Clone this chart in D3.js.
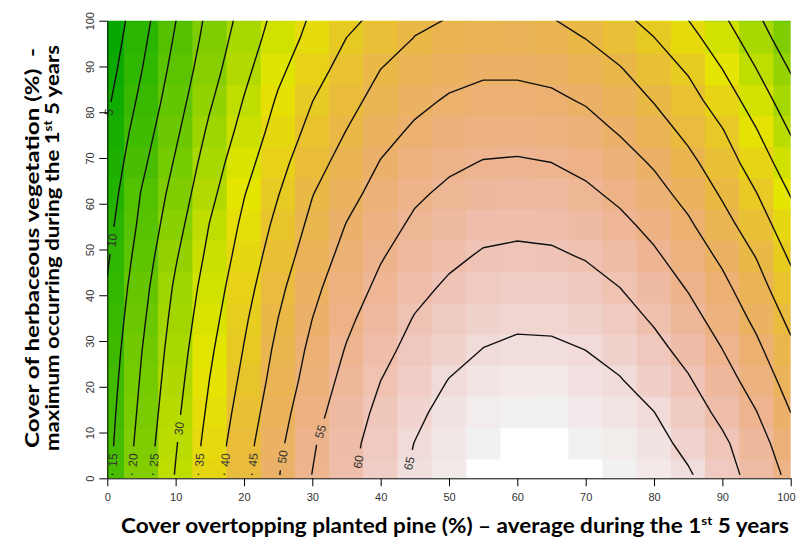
<!DOCTYPE html>
<html>
<head>
<meta charset="utf-8">
<script src="https://cdn.jsdelivr.net/npm/d3@7"></script>
<style>
  html, body { margin: 0; padding: 0; background: #fff; }
  svg { display: block; }
  .tick text { font-family: "Liberation Sans Narrow", "Liberation Sans", Arial, sans-serif; font-size: 11px; fill: #333; }
  .title { font-family: Lato, "Open Sans", sans-serif; font-weight: 700; fill: #000; white-space: pre; }
  .clab { font-family: "Liberation Sans", Arial, sans-serif; font-size: 12px; fill: #333; }
</style>
</head>
<body>
<svg id="chart" width="796" height="542"></svg>
<script>
// Grid positions of the fitted surface
const pineCover = [0, 5, 10, 15, 20, 25, 30, 35, 40, 45, 50, 55, 60, 65, 70, 75, 80, 85, 90, 95, 100];
const herbCover = [0.8, 7.6, 14.4, 21.3, 28.1, 34.9, 41.7, 48.5, 55.4, 62.2, 69.0, 75.8, 82.6, 89.4, 96.3, 103.1];

// Fitted response along each pine-cover column (bottom row first)
const resp0   = [13.8, 13.4, 12.95, 12.4, 11.8, 11.1, 10.35, 9.45, 8.45, 7.45, 6.45, 5.45, 4.2, 3.0, 1.9, 0.9];
const resp5   = [22.33, 21.89, 21.16, 20.5, 19.84, 19.02, 18.18, 17.17, 16.13, 15.25, 13.85, 12.5, 11.1, 9.83, 8.74, 7.7];
const resp10  = [30.29, 29.62, 28.93, 28.19, 27.46, 26.64, 25.75, 24.55, 23.17, 21.86, 20.53, 19.14, 17.85, 16.65, 15.5, 14.46];
const resp15  = [37.36, 36.87, 35.98, 35.11, 34.23, 33.26, 32.35, 31.26, 30.17, 28.72, 27.38, 25.92, 24.41, 23.0, 21.86, 20.85];
const resp20  = [43.6, 43.23, 42.22, 41.17, 40.2, 39.24, 38.14, 37.05, 35.99, 34.77, 33.25, 31.65, 30.22, 28.74, 27.36, 26.12];
const resp25  = [49.75, 48.96, 48.03, 47.04, 46.12, 45.02, 43.87, 42.53, 41.21, 39.83, 38.4, 37.0, 35.56, 33.94, 32.31, 31.0];
const resp30  = [55.08, 54.47, 53.24, 52.02, 51.1, 50.0, 48.86, 47.47, 46.13, 44.83, 43.15, 41.41, 39.91, 38.16, 36.46, 35.12];
const resp35  = [59.0, 58.5, 57.6, 56.5, 55.3, 54.05, 52.75, 51.5, 50.15, 48.5, 46.8, 45.1, 43.4, 41.7, 40.0, 38.0];
const resp40  = [62.5, 62.0, 61.1, 60.0, 58.75, 57.4, 56.0, 54.67, 53.15, 51.7, 50.2, 48.47, 46.7, 45.0, 42.65, 40.4];
const resp45  = [65.8, 65.1, 64.0, 62.65, 61.4, 60.25, 58.75, 57.15, 55.8, 54.3, 52.6, 50.7, 48.9, 47.0, 45.1, 43.3];
const resp50  = [67.4, 67.1, 66.5, 65.15, 63.5, 62.2, 60.7, 59.1, 57.55, 55.9, 54.2, 52.4, 50.45, 48.5, 46.4, 44.3];
const resp55  = [68.75, 68.5, 67.8, 66.6, 65.1, 63.6, 62.05, 60.47, 58.75, 56.96, 55.19, 53.3, 51.3, 49.3, 47.3, 45.4];
const resp60  = [69.25, 68.9, 68.3, 67.3, 65.8, 64.2, 62.6, 60.8, 59.15, 57.4, 55.4, 53.4, 51.3, 49.3, 47.4, 45.5];
const resp65  = [69.45, 69.0, 68.4, 67.3, 65.7, 64.1, 62.6, 60.6, 58.9, 57.2, 55.0, 53.0, 50.8, 48.8, 46.3, 44.3];
const resp70  = [69.2, 68.45, 67.5, 66.3, 64.97, 63.25, 61.5, 59.74, 57.8, 55.85, 53.8, 51.7, 49.6, 47.3, 44.9, 42.5];
const resp75  = [68.45, 67.7, 66.6, 65.26, 63.6, 61.8, 60.0, 58.05, 56.1, 54.04, 51.9, 49.68, 47.5, 45.3, 42.6, 40.0];
const resp80  = [67.3, 66.5, 65.05, 63.1, 61.3, 59.48, 57.6, 55.7, 53.7, 51.6, 49.48, 47.1, 44.76, 42.4, 40.05, 37.3];
const resp85  = [65.5, 63.8, 62.2, 60.45, 58.57, 56.6, 54.68, 52.7, 50.7, 48.5, 46.2, 43.9, 41.8, 39.5, 36.6, 33.8];
const resp90  = [62.0, 60.84, 58.92, 56.95, 55.03, 53.12, 51.2, 49.13, 46.7, 44.45, 42.4, 40.3, 37.68, 35.0, 32.3, 29.7];
const resp95  = [58.1, 57.0, 55.1, 53.04, 51.0, 48.94, 46.9, 44.8, 42.4, 40.1, 37.68, 35.25, 32.63, 30.0, 27.4, 24.85];
const resp100 = [53.8, 52.07, 50.0, 48.0, 46.0, 43.87, 41.6, 39.36, 37.05, 34.74, 32.2, 29.7, 27.2, 24.65, 21.9, 19.2];

const contourLevels = [5, 10, 15, 20, 25, 30, 35, 40, 45, 50, 55, 60, 65];
const xTickValues = [0, 10, 20, 30, 40, 50, 60, 70, 80, 90, 100];
const yTickValues = [0, 10, 20, 30, 40, 50, 60, 70, 80, 90, 100];
const colorCeiling = 68.6;   // cells above this are left blank

// where along each contour its label sits (herbaceous cover, %)
const labelSpots = [[5, 80], [10, 52], [15, 4], [20, 4], [25, 4], [30, 10.9], [35, 4],
                    [40, 4], [45, 4], [50, 4.7], [55, 10.2], [60, 3.6], [65, 3.3]];

const columns = [resp0, resp5, resp10, resp15, resp20, resp25, resp30, resp35, resp40, resp45,
                 resp50, resp55, resp60, resp65, resp70, resp75, resp80, resp85, resp90, resp95, resp100];

const W = 796, H = 542;
const svg = d3.select("#chart");
const defs = svg.append("defs");

const x = d3.scaleLinear([0, 100], [107.3, 790.7]);
const y = d3.scaleLinear([0, 100], [478.3, 20.7]);

const nx = pineCover.length, ny = herbCover.length;
const values = new Array(nx * ny);
for (let j = 0; j < ny; j++) for (let i = 0; i < nx; i++) values[j * nx + i] = columns[i][j];

// terrain palette (green -> yellow -> tan -> near white)
function hsv(h, s, v) {
  const c = v * s, hp = h / 60, xx = c * (1 - Math.abs((hp % 2) - 1)), m = v - c;
  let r = 0, g = 0, b = 0;
  if (hp < 1) [r, g, b] = [c, xx, 0];
  else if (hp < 2) [r, g, b] = [xx, c, 0];
  else [r, g, b] = [0, c, xx];
  return d3.rgb((r + m) * 255, (g + m) * 255, (b + m) * 255).formatHex();
}
function terrain(t) {
  t = Math.max(0, Math.min(1, t));
  if (t < 0.5) { const u = t / 0.5; return hsv(120 - 60 * u, 1, 0.65 + 0.25 * u); }
  const u = (t - 0.5) / 0.5;
  return hsv(60 - 60 * u, 1 - u, 0.9 + 0.05 * u);
}
const zMin = d3.min(values);
const fill = z => terrain((z - zMin) / (colorCeiling - zMin));

function edges(arr) {
  return arr.map((v, i) => {
    const lo = i === 0 ? v - (arr[1] - arr[0]) / 2 : (arr[i - 1] + v) / 2;
    const hi = i === arr.length - 1 ? v + (v - arr[i - 1]) / 2 : (v + arr[i + 1]) / 2;
    return [lo, hi];
  });
}
const xe = edges(pineCover), ye = edges(herbCover);

defs.append("clipPath").attr("id", "plotArea").append("rect")
  .attr("x", x(0)).attr("y", y(100)).attr("width", x(100) - x(0)).attr("height", y(0) - y(100));
defs.append("clipPath").attr("id", "lineArea").append("rect")
  .attr("x", x(0)).attr("y", y(100)).attr("width", x(100) - x(0)).attr("height", y(herbCover[0]) - y(100));

// heat map cells
const cells = [];
for (let j = 0; j < ny; j++) for (let i = 0; i < nx; i++) {
  const z = values[j * nx + i];
  if (z <= colorCeiling) cells.push({ x0: xe[i][0], x1: xe[i][1], y0: ye[j][0], y1: ye[j][1], z });
}
svg.append("g").attr("clip-path", "url(#plotArea)")
  .selectAll("rect").data(cells).join("rect")
  .attr("x", d => x(d.x0) - 0.3)
  .attr("y", d => y(d.y1) - 0.3)
  .attr("width", d => x(d.x1) - x(d.x0) + 0.6)
  .attr("height", d => y(d.y0) - y(d.y1) + 0.6)
  .attr("fill", d => fill(d.z));

// contour lines
const contours = d3.contours().size([nx, ny]).thresholds(contourLevels)(values);
const gx = d3.scaleLinear().domain(pineCover.map((_, i) => i + 0.5)).range(pineCover);
const gy = d3.scaleLinear().domain(herbCover.map((_, j) => j + 0.5)).range(herbCover);
const project = p => [x(gx(p[0])), y(gy(p[1]))];

const ringsByLevel = new Map();
contours.forEach(c => {
  const rings = [];
  c.coordinates.forEach(poly => poly.forEach(ring => rings.push(ring.map(project))));
  ringsByLevel.set(c.value, rings);
});

const mask = defs.append("mask").attr("id", "labelGaps")
  .attr("maskUnits", "userSpaceOnUse").attr("x", 0).attr("y", 0).attr("width", W).attr("height", H);
mask.append("rect").attr("width", W).attr("height", H).attr("fill", "white");

const lineLayer = svg.append("g").attr("clip-path", "url(#lineArea)")
  .append("g").attr("mask", "url(#labelGaps)");
lineLayer.selectAll("path").data(contours).join("path")
  .attr("d", c => ringsByLevel.get(c.value).map(r => "M" + r.join("L") + "Z").join(""))
  .attr("fill", "none").attr("stroke", "#111").attr("stroke-width", 1.4)
  .attr("stroke-linejoin", "round");

// contour labels, placed on the left-most crossing of each level
const labelLayer = svg.append("g");
labelSpots.forEach(([level, at]) => {
  const rings = ringsByLevel.get(level);
  if (!rings) return;
  const py = y(at);
  let best = null;
  rings.forEach(r => {
    for (let k = 1; k < r.length; k++) {
      const a = r[k - 1], b = r[k];
      if (a[1] === b[1] || (a[1] - py) * (b[1] - py) > 0) continue;
      const t = (py - a[1]) / (b[1] - a[1]);
      const px = a[0] + t * (b[0] - a[0]);
      if (px < x(0) - 1 || px > x(100)) continue;
      if (!best || px < best.px) best = { px, a, b };
    }
  });
  if (!best) return;
  let ang = Math.atan2(best.b[1] - best.a[1], best.b[0] - best.a[0]) * 180 / Math.PI;
  if (ang > 90) ang -= 180;
  if (ang <= -90) ang += 180;
  const tr = `translate(${best.px},${py}) rotate(${ang})`;
  const txt = labelLayer.append("text").attr("class", "clab")
    .attr("transform", tr).attr("text-anchor", "middle").attr("dy", "0.35em").text(level);
  const w = txt.node().getComputedTextLength() + 14;
  mask.append("rect").attr("x", -w / 2).attr("y", -6).attr("width", w).attr("height", 12)
    .attr("transform", tr).attr("fill", "black");
});

// axes
const xAxis = svg.append("g").attr("transform", `translate(0,${y(0)})`)
  .call(d3.axisBottom(x).tickValues(xTickValues).tickSize(8).tickSizeOuter(0));
xAxis.selectAll(".tick text").attr("y", 23).attr("dy", 0);
// keep the last label inside the page
xAxis.selectAll(".tick text").filter(d => d === 100).each(function () {
  const right = x(100) + this.getComputedTextLength() / 2;
  if (right > W - 1) d3.select(this).attr("x", W - 1 - right);
});
const yAxis = svg.append("g").attr("transform", `translate(${x(0)},0)`)
  .call(d3.axisLeft(y).tickValues(yTickValues).tickSize(8).tickSizeOuter(0));
yAxis.selectAll(".tick text").attr("x", 0).attr("y", 0).attr("dy", 0)
  .attr("text-anchor", "middle").attr("transform", "translate(-13,0) rotate(-90)");
svg.selectAll(".domain, .tick line").attr("stroke", "#000");

// axis titles
const xt = svg.append("text").attr("class", "title").attr("font-size", 20)
  .attr("x", 121).attr("y", 533).attr("textLength", 668).attr("lengthAdjust", "spacingAndGlyphs");
xt.append("tspan").text("Cover overtopping planted pine (%) \u2013 average during the 1");
xt.append("tspan").attr("font-size", 12).attr("dy", -8).text("st");
xt.append("tspan").attr("dy", 8).text(" 5 years");

svg.append("text").attr("class", "title").attr("font-size", 19)
  .attr("transform", "translate(39,448) rotate(-90)").attr("textLength", 400)
  .attr("lengthAdjust", "spacingAndGlyphs")
  .text("Cover of herbaceous vegetation (%)  -");
const yt2 = svg.append("text").attr("class", "title").attr("font-size", 19)
  .attr("transform", "translate(59,451) rotate(-90)").attr("textLength", 406)
  .attr("lengthAdjust", "spacingAndGlyphs");
yt2.append("tspan").text("maximum occurring during the 1");
yt2.append("tspan").attr("font-size", 11.5).attr("dy", -7).text("st");
yt2.append("tspan").attr("dy", 7).text(" 5 years");
</script>
</body>
</html>
